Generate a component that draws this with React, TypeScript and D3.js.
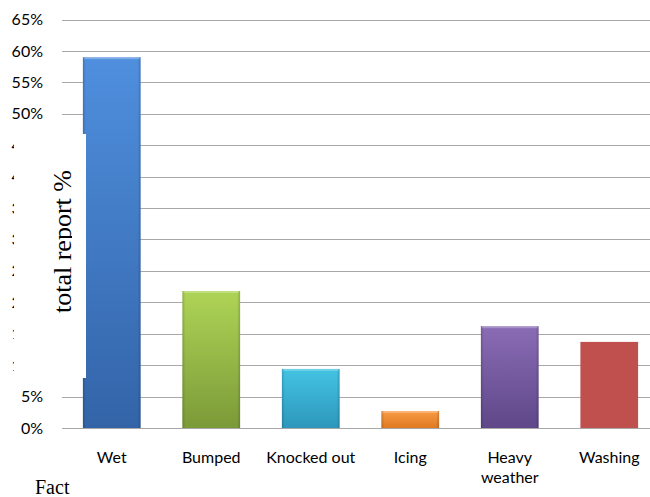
import React from "react";
import * as d3 from "d3";

// Share of total reports by contributing factor
const categories: string[] = ["Wet", "Bumped", "Knocked out", "Icing", "Heavy weather", "Washing"];
const shares: number[] = [0.59, 0.218, 0.094, 0.027, 0.162, 0.137];
const barTop: string[] = ["#4f8fde", "#aed456", "#43c3e3", "#f99b45", "#8a6cb4", "#c0504d"];
const barBottom: string[] = ["#3364a8", "#7b9a38", "#2d97bb", "#df7a22", "#5f4789", "#c0504d"];
const tickValues: number[] = d3.range(0, 0.651, 0.05);

const W = 650;
const H = 497;
const left = 62;
const right = 659;
const top = 19.5;
const bottom = 428;

export default function App() {
  const x = d3.scaleBand<string>().domain(categories).range([left, right]).paddingInner(0.42).paddingOuter(0.21);
  const y = d3.scaleLinear().domain([0, 0.65]).range([bottom, top]);
  const fmt = d3.format(".0%");

  return (
    <div style={{ position: "absolute", left: 0, top: 0 }}>
      <svg width={W} height={H} style={{ display: "block", background: "#fff" }}>
        <defs>
          {categories.map((c, i) => (
            <linearGradient key={c} id={`fill${i}`} x1="0" y1="0" x2="0" y2="1">
              <stop offset="0" stopColor={barTop[i]} />
              <stop offset="1" stopColor={barBottom[i]} />
            </linearGradient>
          ))}
          <linearGradient id="edge" x1="0" y1="0" x2="1" y2="0">
            <stop offset="0" stopColor="#000" stopOpacity={0.18} />
            <stop offset="0.05" stopColor="#000" stopOpacity={0} />
            <stop offset="0.95" stopColor="#000" stopOpacity={0} />
            <stop offset="1" stopColor="#000" stopOpacity={0.18} />
          </linearGradient>
          <clipPath id="titleClip">
            <rect x={14} y={166} width={58} height={212} />
          </clipPath>
        </defs>

        {/* horizontal gridlines */}
        {tickValues.map((t) => (
          <line key={t} x1={left} x2={W} y1={Math.round(y(t)) + 0.5} y2={Math.round(y(t)) + 0.5} stroke="#a8a8a8" strokeWidth={1} />
        ))}

        {/* y tick labels */}
        {tickValues.map((t) => (
          <text
            key={`l${t}`}
            x={43}
            y={y(t)}
            dy="0.35em"
            textAnchor="end"
            fontFamily="Lato, sans-serif"
            fontSize={16}
            fill="#000"
          >
            {fmt(t)}
          </text>
        ))}

        {/* bars */}
        {categories.map((c, i) => {
          const bx = x(c)!;
          const by = y(shares[i]);
          const bw = x.bandwidth();
          const bh = bottom - by;
          const flat = i === 5;
          return (
            <g key={c}>
              <rect x={bx} y={by} width={bw} height={bh} fill={`url(#fill${i})`} />
              {!flat && <rect x={bx} y={by} width={bw} height={bh} fill="url(#edge)" />}
              {!flat && <rect x={bx + 1} y={by} width={bw - 2} height={2} fill="#fff" opacity={0.25} />}
            </g>
          );
        })}

        {/* category labels */}
        {categories.map((c) => {
          const cx = x(c)! + x.bandwidth() / 2;
          const words = c === "Heavy weather" ? ["Heavy", "weather"] : [c];
          return (
            <text key={`c${c}`} x={cx} y={463} textAnchor="middle" fontFamily="Lato, sans-serif" fontSize={16} fill="#000">
              {words.map((w, k) => (
                <tspan key={w} x={cx} dy={k === 0 ? 0 : 20}>
                  {w}
                </tspan>
              ))}
            </text>
          );
        })}

        {/* y axis title box */}
        <rect x={14} y={134} width={72} height={244} fill="#fff" />
        <g clipPath="url(#titleClip)">
          <text
            transform="translate(71,313) rotate(-90)"
            fontFamily="'Liberation Serif', 'Times New Roman', serif"
            fontSize={26}
            fill="#000"
          >
            total report %
          </text>
        </g>

        {/* x axis title */}
        <text x={35} y={494} fontFamily="'Liberation Serif', 'Times New Roman', serif" fontSize={20} fill="#000">
          Fact
        </text>
      </svg>
    </div>
  );
}
